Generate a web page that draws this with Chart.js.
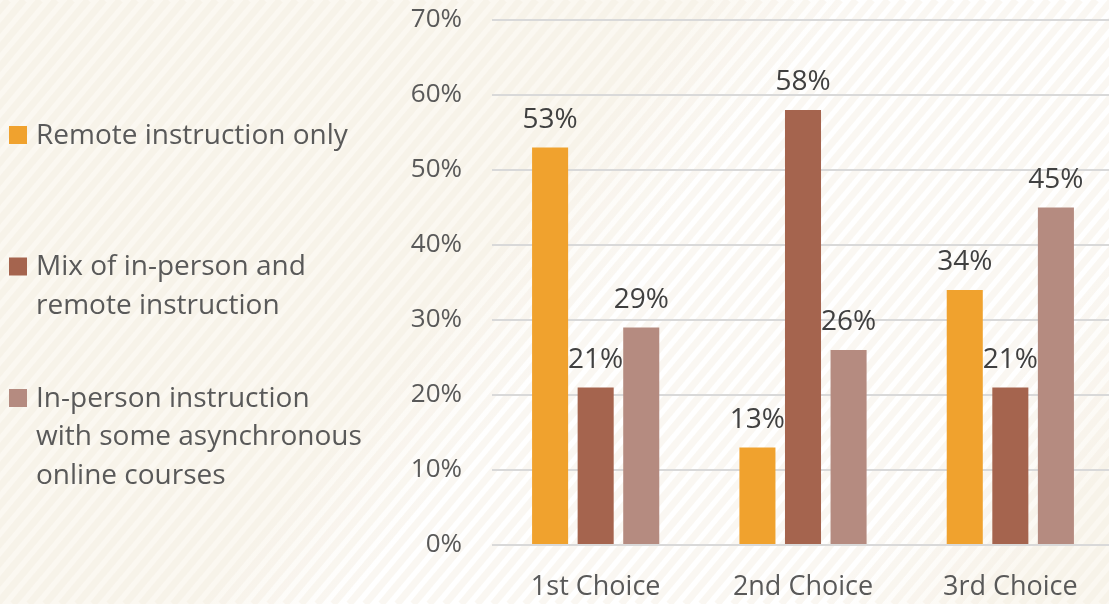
<!DOCTYPE html>
<html>
<head>
<meta charset="utf-8">
<script src="https://cdn.jsdelivr.net/npm/chart.js@4.4.1/dist/chart.umd.min.js"></script>
<style>
  html, body { margin: 0; padding: 0; overflow: hidden; background: #FBF8F2; }
  #wrap { position: relative; width: 1114px; height: 604px; }
</style>
</head>
<body>
<div id="wrap"><canvas id="c"></canvas></div>
<script>
// ---- data ----
const categories = ["1st Choice", "2nd Choice", "3rd Choice"];
const seriesNames = [
  "Remote instruction only",
  "Mix of in-person and remote instruction",
  "In-person instruction with some asynchronous online courses"
];
const legendLines = [
  ["Remote instruction only"],
  ["Mix of in-person and", "remote instruction"],
  ["In-person instruction", "with some asynchronous", "online courses"]
];
const remoteOnly = [53, 13, 34];
const mixed = [21, 58, 21];
const inPersonAsync = [29, 26, 45];
const yTicks = [0, 10, 20, 30, 40, 50, 60, 70];

const colors = ["#F0A22E", "#A5644E", "#B58B80"];
const FONT = "'Open Sans', Lato, sans-serif";

const bgPlugin = {
  id: "bg",
  beforeDraw(chart) {
    const ctx = chart.ctx, W = chart.width, H = chart.height;
    ctx.save();
    const dx = 0.77, dy = 0.64;
    const g = ctx.createLinearGradient(0, 0, dx * 1400, dy * 1400);
    g.addColorStop(0, "#FBF8F1");
    g.addColorStop(540 / 1400, "#FBF8F1");
    g.addColorStop(650 / 1400, "#FFFFFF");
    g.addColorStop(1020 / 1400, "#FFFFFF");
    g.addColorStop(1150 / 1400, "#FBF8F1");
    g.addColorStop(1, "#FBF8F1");
    ctx.fillStyle = g;
    ctx.fillRect(0, 0, W, H);
    ctx.strokeStyle = "rgba(243,236,222,0.4)";
    ctx.lineWidth = 7;
    const ang = 50 * Math.PI / 180;
    const run = H / Math.tan(ang);
    for (let x = -run - 40; x < W + 40; x += 16) {
      ctx.beginPath();
      ctx.moveTo(x, H);
      ctx.lineTo(x + run, 0);
      ctx.stroke();
    }
    ctx.restore();
  }
};

const legendPlugin = {
  id: "sideLegend",
  afterDraw(chart) {
    const ctx = chart.ctx;
    ctx.save();
    ctx.font = "28px " + FONT;
    ctx.textBaseline = "middle";
    ctx.textAlign = "left";
    const startY = 135, itemGap = 131.5, lineH = 38.5;
    legendLines.forEach((lines, i) => {
      const y0 = startY + i * itemGap;
      ctx.fillStyle = chart.data.datasets[i].backgroundColor;
      ctx.fillRect(9, y0 - 9, 18, 18);
      ctx.fillStyle = "#595959";
      lines.forEach((t, j) => ctx.fillText(t, 36, y0 + 1 + j * lineH));
    });
    ctx.restore();
  }
};

const valueLabelPlugin = {
  id: "valueLabels",
  afterDatasetsDraw(chart) {
    const ctx = chart.ctx;
    ctx.save();
    ctx.font = "28px " + FONT;
    ctx.fillStyle = "#404040";
    ctx.textAlign = "center";
    ctx.textBaseline = "alphabetic";
    chart.data.datasets.forEach((ds, di) => {
      const meta = chart.getDatasetMeta(di);
      meta.data.forEach((bar, i) => {
        ctx.fillText(ds.data[i] + "%", bar.x, bar.y - 20);
      });
    });
    ctx.restore();
  }
};

new Chart(document.getElementById("c"), {
  type: "bar",
  data: {
    labels: categories,
    datasets: [
      { label: seriesNames[0], data: remoteOnly, backgroundColor: colors[0] },
      { label: seriesNames[1], data: mixed, backgroundColor: colors[1] },
      { label: seriesNames[2], data: inPersonAsync, backgroundColor: colors[2] }
    ]
  },
  options: {
    responsive: true,
    maintainAspectRatio: false,
    animation: false,
    events: [],
    layout: { padding: { top: 20, left: 0, right: 0, bottom: 0 } },
    datasets: { bar: { categoryPercentage: 0.6594, barPercentage: 0.791 } },
    plugins: { legend: { display: false }, tooltip: { enabled: false } },
    scales: {
      x: {
        grid: { display: false, drawTicks: false },
        border: { display: false },
        ticks: { color: "#595959", font: { family: FONT, size: 27 }, padding: 26, maxRotation: 0 },
        afterFit(s) { s.height = 59; }
      },
      y: {
        min: 0, max: 70,
        afterBuildTicks(s) { s.ticks = yTicks.map(v => ({ value: v })); },
        grid: { color: "#D9D9D9", lineWidth: 2, drawTicks: false },
        border: { display: false },
        ticks: { color: "#595959", font: { family: FONT, size: 26 }, padding: 30, callback: v => v + "%" },
        afterFit(s) { s.width = 492; s.paddingTop = 0; s.paddingBottom = 0; }
      }
    }
  },
  plugins: [bgPlugin, valueLabelPlugin, legendPlugin]
});
</script>
</body>
</html>
